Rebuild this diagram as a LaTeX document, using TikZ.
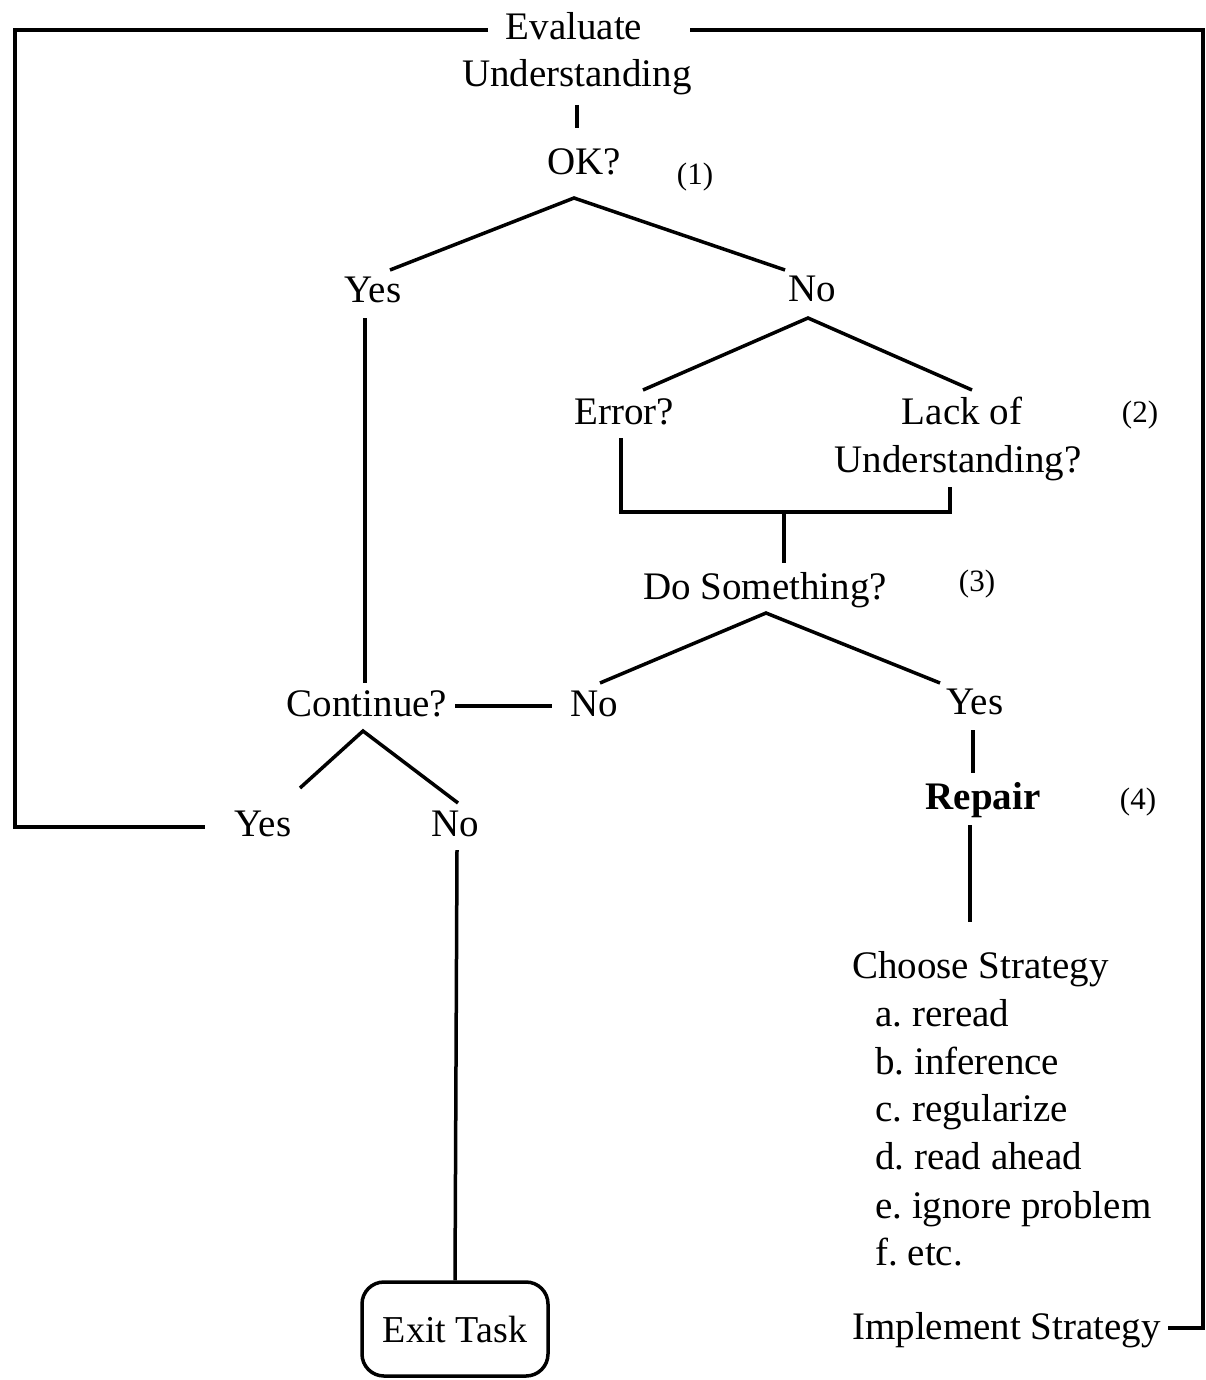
\documentclass[tikz,border=0pt]{standalone}
\usepackage{fontspec}
\setmainfont{Liberation Serif}
\frenchspacing
\begin{document}
\begin{tikzpicture}[x=1pt,y=-1pt,
  lbl/.style={inner sep=0pt, yshift=-9pt, text height=0.72em, text depth=0.22em, font=\fontsize{39}{44}\selectfont},
  num/.style={inner sep=0pt, yshift=-7pt, text height=0.72em, text depth=0.22em, font=\fontsize{31}{36}\selectfont},
  ln/.style={line width=3.5pt},
  exitbox/.style={draw, line width=3.5pt, rounded corners=22pt, minimum width=186pt, minimum height=94pt, font=\fontsize{38}{44}\selectfont}]
\useasboundingbox (0,0) rectangle (1206,1380);
% texts
\node[lbl] (eval) at (574,28) {Evaluate};
\node[lbl] (und) at (577,75) {Understanding};
\node[lbl] (ok) at (584,163) {OK?};
\node[num] (n1) at (695,175) {(1)};
\node[lbl] (yes1) at (373,291) {Yes};
\node[lbl] (no1) at (812,290) {No};
\node[lbl] (err) at (624,413) {Error?};
\node[lbl] (lack) at (962,413) {Lack of};
\node[lbl] (lack2) at (958,461) {Understanding?};
\node[num] (n2) at (1140,413) {(2)};
\node[lbl] (dos) at (765,588) {Do Something?};
\node[num] (n3) at (977,582) {(3)};
\node[lbl] (cont) at (367,705) {Continue?};
\node[lbl] (no2) at (594,705) {No};
\node[lbl] (yes2) at (975,703) {Yes};
\node[lbl, font=\fontsize{39}{44}\selectfont\bfseries] (rep) at (983,798) {Repair};
\node[num] (n4) at (1138,800) {(4)};
\node[lbl] (yes3) at (263,825) {Yes};
\node[lbl] (no3) at (455,825) {No};
\node[exitbox] (exit) at (455,1329) {Exit Task};
\node[lbl, anchor=west] (choose) at (852,967) {Choose Strategy};
\node[lbl, anchor=west] (sa) at (875,1015) {a. reread};
\node[lbl, anchor=west] (sb) at (875,1063) {b. inference};
\node[lbl, anchor=west] (sc) at (875,1110) {c. regularize};
\node[lbl, anchor=west] (sd) at (875,1158) {d. read ahead};
\node[lbl, anchor=west] (se) at (875,1207) {e. ignore problem};
\node[lbl, anchor=west] (sf) at (875,1254) {f. etc.};
\node[lbl, anchor=west] (impl) at (852,1328) {Implement Strategy};
% coordinates
\coordinate (evalL) at (488,30);
\coordinate (evalR) at (690,30);
\coordinate (okTop) at (577,128);
\coordinate (undBot) at (577,105);
\coordinate (okB) at (574,198);
\coordinate (yes1T) at (390,270);
\coordinate (no1T) at (785,270);
\coordinate (yes1B) at (365,318);
\coordinate (contT) at (365,683);
\coordinate (no1B) at (808,318);
\coordinate (errT) at (643,390);
\coordinate (lackT) at (972,390);
\coordinate (errB) at (621,438);
\coordinate (lackB) at (950,487);
\coordinate (brL) at (621,512);
\coordinate (brR) at (950,512);
\coordinate (brM) at (784,512);
\coordinate (dosT) at (784,563);
\coordinate (dosB) at (766,613);
\coordinate (no2T) at (600,683);
\coordinate (yes2T) at (940,683);
\coordinate (contR) at (455,706);
\coordinate (no2L) at (552,706);
\coordinate (yes2B) at (973,730);
\coordinate (repT) at (973,773);
\coordinate (repB) at (970,825);
\coordinate (chT) at (970,922);
\coordinate (contB) at (363,731);
\coordinate (yes3T) at (300,788);
\coordinate (no3T) at (458,803);
\coordinate (no3B) at (457,850);
\coordinate (yes3L) at (205,827);
\coordinate (implR) at (1168,1328);
% lines
\draw[ln] (evalL) -- (15,30) -- (15,827) -- (yes3L);
\draw[ln] (evalR) -- (1203,30) |- (implR);
\draw[ln] (undBot) -- (okTop);
\draw[ln] (yes1T) -- (okB) -- (no1T);
\draw[ln] (yes1B) -- (contT);
\draw[ln] (errT) -- (no1B) -- (lackT);
\draw[ln] (errB) -- (brL) -- (brR) -- (lackB);
\draw[ln] (brM) -- (dosT);
\draw[ln] (no2T) -- (dosB) -- (yes2T);
\draw[ln] (contR) -- (no2L);
\draw[ln] (yes2B) -- (repT);
\draw[ln] (repB) -- (chT);
\draw[ln] (yes3T) -- (contB) -- (no3T);
\draw[ln] (no3B) -- (exit.north);
\end{tikzpicture}
\end{document}
